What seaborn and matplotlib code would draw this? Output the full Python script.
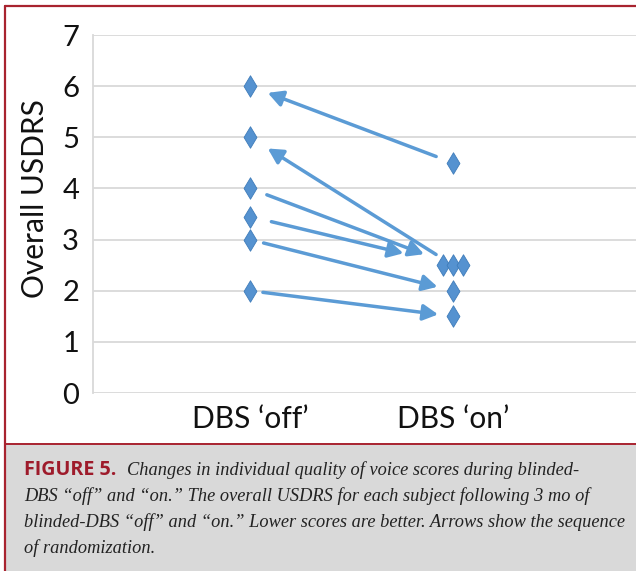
import numpy as np
import pandas as pd
import matplotlib
matplotlib.use("Agg")
import matplotlib.pyplot as plt
from matplotlib.patches import Rectangle
from matplotlib.lines import Line2D
import seaborn as sns

# data: one row per subject
subjects = [1, 2, 3, 4, 5, 6]
off_scores = [6, 5, 4, 3.45, 3, 2]
on_scores = [4.5, 2.5, 2.5, 2.5, 2, 1.5]
first_condition = ["on", "on", "off", "off", "off", "off"]
conditions = ["off", "on"]
tick_labels = ["DBS \u2018off\u2019", "DBS \u2018on\u2019"]

caption_head = "FIGURE 5."
caption_lines = [
    "Changes in individual quality of voice scores during blinded-",
    "DBS \u201coff\u201d and \u201con.\u201d The overall USDRS for each subject following 3 mo of",
    "blinded-DBS \u201coff\u201d and \u201con.\u201d Lower scores are better. Arrows show the sequence",
    "of randomization.",
]

blue = "#5B9BD5"
grid = "#D9D9D9"
red = "#A8232F"

sns.set_theme(style="white")
plt.rcParams["font.family"] = ["Lato", "DejaVu Sans"]

df = pd.DataFrame({
    "subject": subjects * 2,
    "condition": ["off"] * len(subjects) + ["on"] * len(subjects),
    "score": off_scores + on_scores,
})
df["pos"] = df["condition"].map({c: i + 1 for i, c in enumerate(conditions)})
# spread tied scores sideways like the original
grp = df.groupby(["condition", "score"])["subject"]
df["pos"] = df["pos"] + (grp.cumcount() - (grp.transform("count") - 1) / 2) * 0.05

fig = plt.figure(figsize=(6.36, 5.71), dpi=100)
W, H = 636, 571

# frame and caption panel
fig.patches.append(Rectangle((6 / W, 0), 1, 126 / H, transform=fig.transFigure,
                             facecolor="#D9D9D9", edgecolor="none", zorder=0))
fig.lines.append(Line2D([5 / W, 5 / W], [0, 1 - 6 / H], transform=fig.transFigure,
                        color=red, lw=1.6))
fig.lines.append(Line2D([5 / W, 1], [1 - 6 / H, 1 - 6 / H], transform=fig.transFigure,
                        color=red, lw=1.6))
fig.lines.append(Line2D([5 / W, 1], [1 - 444 / H, 1 - 444 / H], transform=fig.transFigure,
                        color=red, lw=1.4))

ax = fig.add_axes([93 / W, 1 - 393 / H, (W - 93) / W, (393 - 35) / H])
ax.set_facecolor("none")

sns.scatterplot(data=df, x="pos", y="score", marker="d", s=120, color="#5592D0",
                edgecolor="#3F7CBA", linewidth=0.6, ax=ax, zorder=3, legend=False)

# arrows from first period to second period
px2pt = 0.72
gap_off = [19, 21, 18, 22, 14, 13]
gap_on = [18, 20, 31, 51, 16, 15]
for i, s in enumerate(subjects):
    p_off = (1, off_scores[i])
    p_on = (2, on_scores[i])
    if first_condition[i] == "off":
        start, end, ga, gb = p_off, p_on, gap_off[i], gap_on[i]
    else:
        start, end, ga, gb = p_on, p_off, gap_on[i], gap_off[i]
    ax.annotate("", xy=end, xytext=start,
                arrowprops=dict(arrowstyle="-|>,head_length=0.45,head_width=0.24",
                                mutation_scale=20, lw=2.5, color=blue,
                                shrinkA=ga * px2pt, shrinkB=gb * px2pt), zorder=2)

ax.set_xlim(1 - 157 / 203, 2 + 183 / 203)
ax.set_ylim(0, 7)
ax.set_yticks(range(0, 8))
ax.set_xticks([1, 2])
ax.set_xticklabels(tick_labels, fontsize=21.5, color="#111111")
ax.tick_params(axis="x", length=0, pad=9)
ax.tick_params(axis="y", direction="out", length=6, width=1.3, color=grid,
               labelsize=21, labelcolor="#111111", pad=4)
ax.yaxis.grid(True, color=grid, lw=1.3)
for side in ["top", "right", "bottom"]:
    ax.spines[side].set_visible(False)
ax.spines["left"].set_color(grid)
ax.spines["left"].set_linewidth(1.3)
ax.set_xlabel("")
ax.set_ylabel("")
fig.text(35 / W, 1 - 199 / H, "Overall USDRS", rotation=90, ha="center", va="center",
         fontsize=21.5, color="#111111")

# caption, sized to the widths seen in the original
serif = ["Liberation Serif", "DejaVu Serif"]
baselines = [475, 501, 527, 553]
fig.canvas.draw()
r = fig.canvas.get_renderer()
head = fig.text(24 / W, 1 - baselines[0] / H, caption_head, fontsize=14, fontweight="bold",
                color="#9E1B2B", va="baseline", family=["Open Sans", "DejaVu Sans"])
head.set_fontsize(14 * 93 / head.get_window_extent(renderer=r).width)
hw = head.get_window_extent(renderer=r).width

probe = fig.text(0, 0, caption_lines[2], fontsize=14, style="italic", family=serif)
cap_size = 14 * 603 / probe.get_window_extent(renderer=r).width
probe.remove()

for k, line in enumerate(caption_lines):
    x0 = 24 + (hw + 11 if k == 0 else 0)
    fig.text(x0 / W, 1 - baselines[k] / H, line, fontsize=cap_size, style="italic",
             color="#222222", va="baseline", family=serif)

fig.savefig("out.png", dpi=100)
